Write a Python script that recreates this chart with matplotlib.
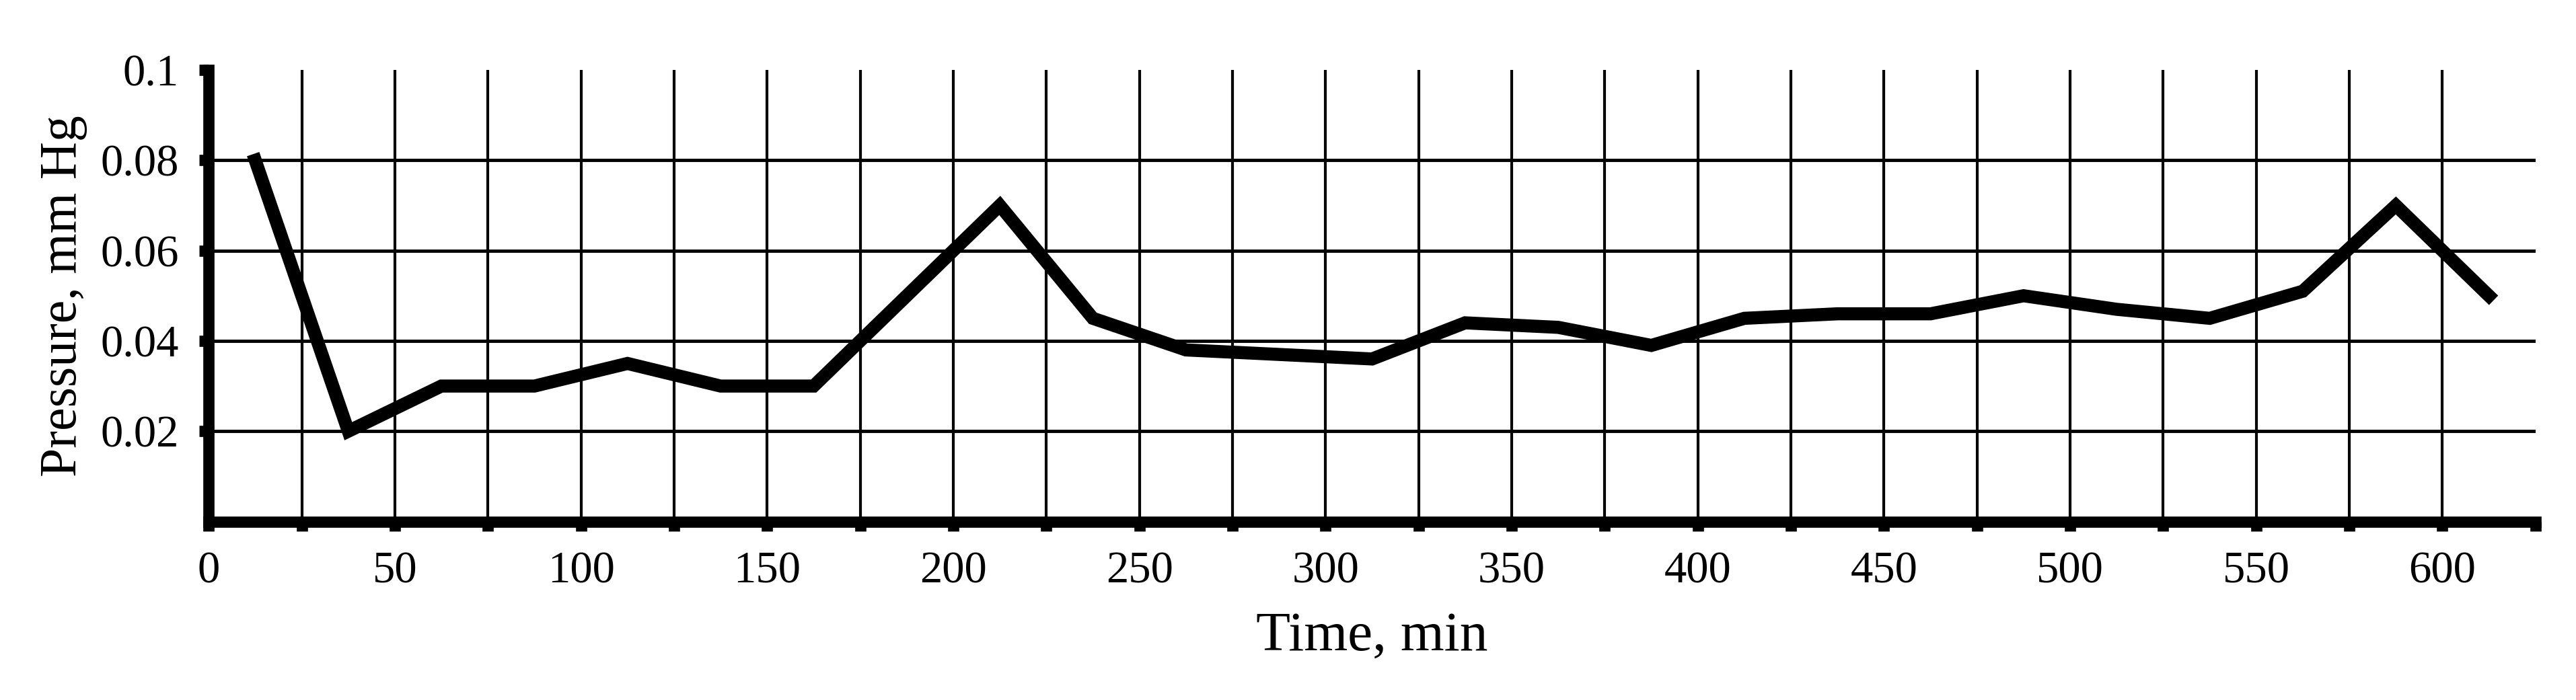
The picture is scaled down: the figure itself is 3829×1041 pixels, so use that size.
import matplotlib
matplotlib.use("Agg")
import matplotlib.pyplot as plt
import numpy as np

time_min = [12.5 + 25 * k for k in range(25)]
pressure = [0.080, 0.020, 0.030, 0.030, 0.035, 0.030, 0.030, 0.050, 0.070,
            0.045, 0.038, 0.037, 0.036, 0.044, 0.043, 0.039, 0.045, 0.046,
            0.046, 0.050, 0.047, 0.045, 0.051, 0.070, 0.050]
x_labels = [0, 50, 100, 150, 200, 250, 300, 350, 400, 450, 500, 550, 600]
y_labels = [0.02, 0.04, 0.06, 0.08, 0.1]

plt.rcParams['font.family'] = ['Liberation Serif', 'DejaVu Serif']
fig = plt.figure(figsize=(38.30, 10.41), dpi=100)
ax = fig.add_axes([0.081, 0.255, 0.903, 0.645])

ax.set_xlim(0, 625)
ax.set_ylim(0, 0.1)
for gx in np.arange(25, 625, 25):
    ax.axvline(gx, color='black', lw=3, zorder=1)
for gy in [0.02, 0.04, 0.06, 0.08]:
    ax.axhline(gy, color='black', lw=3.5, zorder=1)

ax.plot(time_min, pressure, color='black', lw=14, solid_joinstyle='miter', zorder=3)

for s in ['top', 'right']:
    ax.spines[s].set_visible(False)
for s in ['left', 'bottom']:
    ax.spines[s].set_linewidth(12)
ax.set_xticks(np.arange(0, 626, 25), minor=False)
ax.set_xticklabels([str(v) if v % 50 == 0 else '' for v in np.arange(0, 626, 25)])
ax.set_yticks(y_labels)
ax.set_yticklabels(['0.02', '0.04', '0.06', '0.08', '0.1'])
ax.tick_params(axis='both', direction='out', length=10, width=12, labelsize=48, pad=22)
ax.set_xlabel('Time, min', fontsize=60, labelpad=20)
ax.set_ylabel('Pressure, mm Hg', fontsize=56, labelpad=14)

fig.savefig('out.png', dpi=100, facecolor='white')
